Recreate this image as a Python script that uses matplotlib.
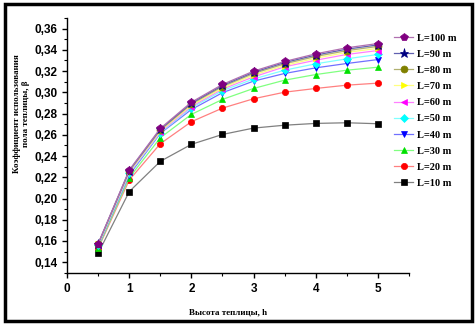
import numpy as np
import matplotlib.pyplot as plt
from matplotlib.patches import Rectangle
from matplotlib.ticker import MultipleLocator, FuncFormatter

# ---------- данные ----------
h = [0.5, 1.0, 1.5, 2.0, 2.5, 3.0, 3.5, 4.0, 4.5, 5.0]

beta_100 = [0.1576, 0.2268, 0.2660, 0.2907, 0.3074, 0.3199, 0.3290, 0.3362, 0.3419, 0.3459]
beta_90 = [0.1574, 0.2263, 0.2652, 0.2898, 0.3064, 0.3188, 0.3280, 0.3350, 0.3406, 0.3446]
beta_80 = [0.1572, 0.2258, 0.2645, 0.2889, 0.3054, 0.3177, 0.3268, 0.3337, 0.3392, 0.3432]
beta_70 = [0.1568, 0.2252, 0.2636, 0.2877, 0.3041, 0.3162, 0.3252, 0.3321, 0.3375, 0.3414]
beta_60 = [0.1564, 0.2245, 0.2627, 0.2866, 0.3030, 0.3145, 0.3240, 0.3302, 0.3356, 0.3393]
beta_50 = [0.1560, 0.2236, 0.2620, 0.2855, 0.3015, 0.3125, 0.3208, 0.3268, 0.3315, 0.3356]
beta_40 = [0.1552, 0.2222, 0.2613, 0.2838, 0.2996, 0.3105, 0.3177, 0.3230, 0.3271, 0.3308]
beta_30 = [0.1538, 0.2196, 0.2572, 0.2792, 0.2933, 0.3036, 0.3114, 0.3167, 0.3208, 0.3236]
beta_20 = [0.1530, 0.2174, 0.2516, 0.2723, 0.2851, 0.2939, 0.3001, 0.3036, 0.3067, 0.3086]
beta_10 = [0.1485, 0.2065, 0.2350, 0.2510, 0.2603, 0.2663, 0.2690, 0.2707, 0.2713, 0.2704]

labels = ["L=100 m", "L=90 m", "L=80 m", "L=70 m", "L=60 m",
          "L=50 m", "L=40 m", "L=30 m", "L=20 m", "L=10 m"]
series = [beta_100, beta_90, beta_80, beta_70, beta_60,
          beta_50, beta_40, beta_30, beta_20, beta_10]

# ---------- стиль ----------
markers = ['p', '*', 'o', '>', '<', 'D', 'v', '^', 'o', 's']
mcolors = ['#800080', '#000080', '#808000', '#ffff00', '#ff00ff',
           '#00ffff', '#0000ff', '#00e000', '#ff0000', '#000000']
lcolors = ['#b070b0', '#6060b0', '#b0b070', '#ffff80', '#ff80ff',
           '#80ffff', '#7070ff', '#80ff80', '#ff8080', '#808080']
msizes = [5.5, 6.5, 5, 5, 5, 4, 5, 5, 4.5, 4.5]

fig = plt.figure(figsize=(4.76, 3.26), dpi=100)
ax = fig.add_axes([0.141, 0.163, 0.718, 0.782])

# рисуем снизу вверх, чтобы L=100 было сверху
for i in range(len(series) - 1, -1, -1):
    ax.plot(h, series[i], color=lcolors[i], lw=0.9, marker=markers[i],
            markersize=msizes[i], markerfacecolor=mcolors[i],
            markeredgecolor=mcolors[i], markeredgewidth=0.5, label=labels[i])

ax.set_xlim(0, 5.5)
ax.set_ylim(0.13, 0.37)
ax.xaxis.set_major_locator(MultipleLocator(1))
ax.xaxis.set_minor_locator(MultipleLocator(0.5))
ax.yaxis.set_major_locator(MultipleLocator(0.02))
ax.yaxis.set_minor_locator(MultipleLocator(0.01))
ax.set_yticks(np.arange(0.14, 0.361, 0.02))
ax.yaxis.set_major_formatter(FuncFormatter(lambda v, p: f"{v:.2f}".replace('.', ',')))

for s in ['top', 'right']:
    ax.spines[s].set_visible(False)
for s in ['left', 'bottom']:
    ax.spines[s].set_linewidth(1.0)

ax.tick_params(which='major', direction='out', length=3.5, width=1.0)
ax.tick_params(which='minor', direction='out', length=2, width=0.8)
for t in ax.get_xticklabels() + ax.get_yticklabels():
    t.set_fontfamily('Liberation Sans')
    t.set_fontweight('bold')
    t.set_fontsize(8.5)

handles, labs = ax.get_legend_handles_labels()
leg = ax.legend(handles[::-1], labs[::-1], loc='upper left',
                bbox_to_anchor=(0.828, 0.898), bbox_transform=fig.transFigure,
                frameon=False, borderpad=0, borderaxespad=0,
                handlelength=1.8, handletextpad=0.35, labelspacing=0.66,
                prop={'family': 'Liberation Serif', 'weight': 'bold', 'size': 7.5})

fig.text(0.48, 0.042, "Высота теплицы, h", ha='center', va='center',
         family='Liberation Serif', weight='bold', fontsize=6.5)
fig.text(0.045, 0.65, "Коэффициент использования\nпола теплицы, β",
         ha='center', va='center', rotation=90, linespacing=1.1,
         family='Liberation Serif', weight='bold', fontsize=6.5)

# рамка вокруг рисунка
fig.patches.append(Rectangle((0.010, 0.014), 0.981, 0.973, transform=fig.transFigure,
                             fill=False, edgecolor='black', lw=2.5))

plt.savefig("out.png", dpi=100)
